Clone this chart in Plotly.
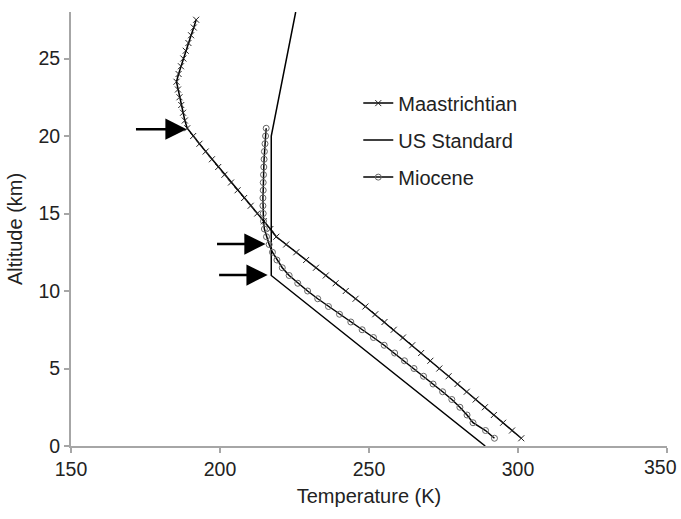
import plotly.graph_objects as go

# Altitude grid (km)
alt_maas = [0.5, 1.0, 1.5, 2.0, 2.5, 3.0, 3.5, 4.0, 4.5, 5.0, 5.5, 6.0, 6.5, 7.0, 7.5, 8.0,
            8.5, 9.0, 9.5, 10.0, 10.5, 11.0, 11.5, 12.0, 12.5, 13.0, 13.5, 14.0, 14.5, 15.0,
            15.5, 16.0, 16.5, 17.0, 17.5, 18.0, 18.5, 19.0, 19.5, 20.0, 20.5, 21.0, 21.5,
            22.0, 22.5, 23.0, 23.5, 24.0, 24.5, 25.0, 25.5, 26.0, 26.5, 27.0, 27.5]
temp_maas = [301.1, 298.0, 295.0, 291.9, 288.9, 285.8, 282.8, 279.7, 276.7, 273.6, 270.6,
             267.5, 264.5, 261.4, 258.3, 255.2, 252.1, 248.8, 245.5, 242.2, 238.8, 235.5,
             232.2, 228.9, 225.6, 222.2, 218.9, 216.9, 214.7, 212.5, 210.3, 208.1, 205.9,
             203.7, 201.5, 199.4, 197.3, 195.2, 193.1, 191.0, 189.0, 188.2, 187.6, 187.0,
             186.4, 185.9, 185.4, 186.1, 186.9, 187.7, 188.5, 189.4, 190.3, 191.2, 192.0]

alt_us = [0, 11, 20, 28]
temp_us = [289.0, 217.2, 217.2, 225.4]

alt_mio = [0.5, 1.0, 1.5, 2.0, 2.5, 3.0, 3.5, 4.0, 4.5, 5.0, 5.5, 6.0, 6.5, 7.0, 7.5, 8.0,
           8.5, 9.0, 9.5, 10.0, 10.5, 11.0, 11.5, 12.0, 12.5, 13.0, 13.5, 14.0, 14.5, 15.0,
           15.5, 16.0, 16.5, 17.0, 17.5, 18.0, 18.5, 19.0, 19.5, 20.0, 20.5]
temp_mio = [292.1, 289.1, 284.9, 282.9, 280.5, 277.8, 274.7, 271.5, 268.3, 265.1, 261.9,
            258.6, 255.1, 251.5, 247.7, 243.9, 240.1, 236.4, 232.8, 229.4, 226.1, 223.2,
            220.9, 219.1, 217.6, 216.5, 215.6, 214.9, 214.6, 214.5, 214.4, 214.4, 214.5,
            214.5, 214.6, 214.7, 214.8, 214.9, 215.1, 215.3, 215.5]

# Arrows: (tail T, tip T, altitude)
arrow_tail_t = [171.3, 198.5, 199.2]
arrow_tip_t = [188.8, 215.3, 216.0]
arrow_alt = [20.44, 13.03, 11.03]

x_ticks = [150, 200, 250, 300, 350]
x_tick_labels = ["150", "200", "250", "300", "350"]
y_ticks = [0, 5, 10, 15, 20, 25]

FONT = "Liberation Sans, Arial"

fig = go.Figure()
fig.add_trace(go.Scatter(
    x=temp_maas, y=alt_maas, mode="lines+markers", name="Maastrichtian",
    legendgroup="a",
    line=dict(color="black", width=1.5),
    marker=dict(symbol="x-thin", size=6, line=dict(color="#222", width=1))))
fig.add_trace(go.Scatter(
    x=temp_us, y=alt_us, mode="lines", name="US Standard", legendgroup="b",
    line=dict(color="black", width=1.5)))
fig.add_trace(go.Scatter(
    x=temp_mio, y=alt_mio, mode="lines+markers", name="Miocene", legendgroup="c",
    line=dict(color="black", width=1.5),
    marker=dict(symbol="circle-open", size=6, color="#666", line=dict(color="#666", width=1))))

for tt, th, a in zip(arrow_tail_t, arrow_tip_t, arrow_alt):
    fig.add_annotation(x=th, y=a, ax=tt, ay=a, xref="x", yref="y", axref="x", ayref="y",
                       showarrow=True, arrowhead=2, arrowsize=1.7, arrowwidth=2.5,
                       arrowcolor="black", standoff=0, text="")

# last x tick label is nudged left so it stays inside the page (as in the reference)
fig.add_annotation(x=x_ticks[-1], y=0, xref="x", yref="paper", text=x_tick_labels[-1],
                   showarrow=False, xanchor="right", yanchor="top", xshift=12, yshift=-8,
                   font=dict(family=FONT, size=19.5, color="#222"))

axis_common = dict(showgrid=False, zeroline=False, showline=True, linecolor="#a6a6a6",
                   linewidth=2, ticks="outside", tickcolor="#a6a6a6", ticklen=5, tickwidth=2,
                   automargin=False,
                   tickfont=dict(family=FONT, size=19.5, color="#222"))

fig.update_layout(
    width=681, height=519,
    margin=dict(l=71, r=14, t=12, b=73),
    paper_bgcolor="white", plot_bgcolor="white",
    font=dict(family=FONT, size=20, color="#222"),
    xaxis=dict(range=[150, 350], tickvals=x_ticks,
               ticktext=x_tick_labels[:-1] + [""],
               title=dict(text="Temperature (K)", standoff=10,
                          font=dict(family=FONT, size=20, color="#222")), **axis_common),
    yaxis=dict(range=[0, 28], tickvals=y_ticks,
               title=dict(text="Altitude (km)", standoff=10,
                          font=dict(family=FONT, size=20, color="#222")), **axis_common),
    legend=dict(x=0.482, y=0.835, xanchor="left", yanchor="top", bgcolor="rgba(0,0,0,0)",
                font=dict(family=FONT, size=20, color="#222"),
                itemwidth=30, tracegroupgap=8, traceorder="grouped"),
)

fig.write_html("out.html", config={"displayModeBar": False},
               post_script="document.body.style.margin='0';")
